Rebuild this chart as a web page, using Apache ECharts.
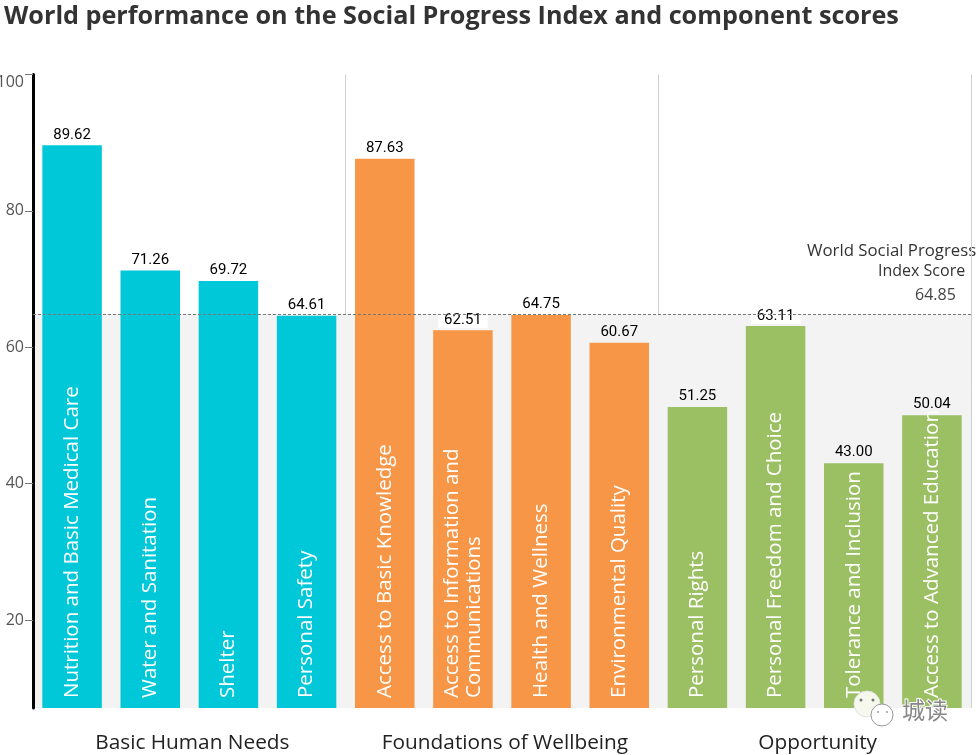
<!DOCTYPE html>
<html><head><meta charset="utf-8">
<style>html,body{margin:0;padding:0;background:#fff}#c{width:980px;height:755px}</style>
<script src="https://cdn.jsdelivr.net/npm/echarts@6/dist/echarts.min.js"></script></head>
<body><div id="c"></div>
<script>
const categories = ["Nutrition and Basic Medical Care","Water and Sanitation","Shelter","Personal Safety","Access to Basic Knowledge","Access to Information and\nCommunications","Health and Wellness","Environmental Quality","Personal Rights","Personal Freedom and Choice","Tolerance and Inclusion","Access to Advanced Education"];
const values = [89.62,71.26,69.72,64.61,87.63,62.51,64.75,60.67,51.25,63.11,43.00,50.04];
const groups = ["Basic Human Needs","Foundations of Wellbeing","Opportunity"];
const groupColors = ["#00C8D8","#F79646","#9BBF63"];
const groupSizes = [4,4,4];
const yTicks = [20,40,60,80,100];
const worldScore = 64.85;
const yMin = 7.1, yMax = 100;
const barColors = groupSizes.flatMap((n,i)=>Array(n).fill(groupColors[i]));
const maskedLabels = [62.51,63.11];

const chart = echarts.init(document.getElementById('c'),null,{renderer:'canvas'});
chart.setOption({
  animation:false,
  backgroundColor:'#fff',
  title:{text:"World performance on the Social Progress Index and component scores",left:-1,top:-1,
    textStyle:{fontFamily:'Open Sans',fontWeight:'bold',fontSize:25.2,color:'#333'}},
  grid:{left:33,right:9,top:74.5,bottom:47,outerBoundsMode:'none'},
  xAxis:[
    {type:'category',data:categories,position:'bottom',axisLine:{show:false},axisTick:{show:false},
     z:10,
     axisLabel:{inside:true,rotate:90,interval:0,margin:10,color:'#fff',fontFamily:'Open Sans',fontSize:20.5,lineHeight:22,align:'left',verticalAlign:'middle',padding:[0,0,8,0]}},
    {type:'category',data:groups,position:'bottom',axisLine:{show:false},axisTick:{show:false},
     splitLine:{show:true,lineStyle:{color:'#cfcfcf',width:1}},
     axisLabel:{interval:0,margin:25,color:'#222',fontFamily:'Open Sans',fontSize:20.8,padding:[0,0,0,6]}}
  ],
  yAxis:{type:'value',min:yMin,max:yMax,splitLine:{show:false},
    axisLine:{show:true,onZero:false,lineStyle:{color:'#000',width:3}},
    axisTick:{show:true,length:8,customValues:yTicks,lineStyle:{color:'#777',width:1}},
    axisLabel:{customValues:yTicks,margin:9,color:'#555',fontFamily:'Open Sans',fontSize:16,showMinLabel:true,showMaxLabel:true,
      formatter:v=>v===100?'{top|100}':String(v),
      rich:{top:{padding:[15,0,0,0],color:'#555',fontFamily:'Open Sans',fontSize:16}}}},
  series:[{
    type:'bar',xAxisIndex:0,barWidth:59.5,
    data:values.map((v,i)=>({value:v,itemStyle:{color:barColors[i]},
      label:maskedLabels.includes(v)?{backgroundColor:'#fff',padding:[1,6,0,6],distance:2}:{}})),
    label:{show:true,position:'top',distance:3,color:'#000',fontFamily:'Roboto',fontSize:15,
      formatter:p=>p.value.toFixed(2)},
    markArea:{silent:true,z:0,itemStyle:{color:'#F3F3F3'},data:[[{yAxis:worldScore,x:33},{yAxis:yMin,x:971}]]},
    markLine:{silent:true,symbol:'none',label:{show:false},z:5,
      lineStyle:{color:'#777',type:[3,2],width:1},data:[{yAxis:worldScore}]}
  }],
  graphic:[
    {type:'text',left:807,top:243,style:{text:'World Social Progress',fontFamily:'Open Sans',fontSize:16.8,fill:'#333'}},
    {type:'text',left:878,top:263,style:{text:'Index Score',fontFamily:'Open Sans',fontSize:16,fill:'#333'}},
    {type:'text',left:915,top:287,style:{text:'64.85',fontFamily:'Open Sans',fontSize:16,fill:'#444'}},
    {type:'circle',shape:{cx:867,cy:704,r:13},style:{fill:'#f6f8ee',stroke:'#e4e4e4',lineWidth:1},z:20},
    {type:'circle',shape:{cx:882,cy:715,r:11},style:{fill:'#fff',stroke:'#999',lineWidth:1},z:21},
    {type:'circle',shape:{cx:861,cy:700,r:1.5},style:{fill:'#777'},z:22},
    {type:'circle',shape:{cx:873,cy:700,r:1.5},style:{fill:'#777'},z:22},
    {type:'circle',shape:{cx:878,cy:712,r:1},style:{fill:'#999'},z:22},
    {type:'circle',shape:{cx:887,cy:712,r:1},style:{fill:'#999'},z:22},
    {type:'text',left:901,top:698,z:22,style:{text:'城读',fontFamily:'Noto Sans CJK SC',fontSize:23,fill:'#888',stroke:'#fff',lineWidth:2}}
  ]
});
</script></body></html>
